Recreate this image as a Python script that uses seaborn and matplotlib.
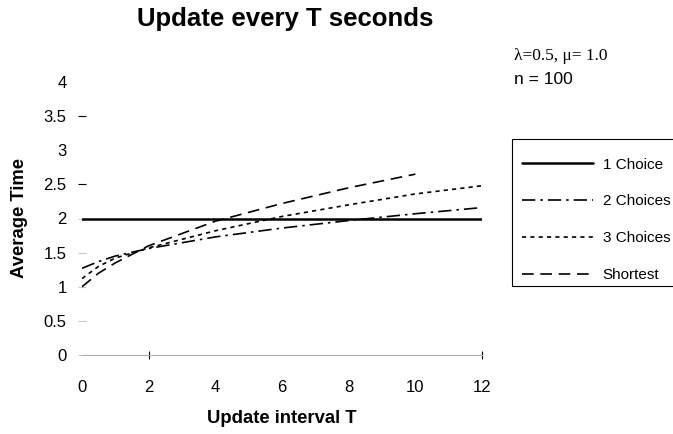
import matplotlib
matplotlib.use("Agg")
import matplotlib.pyplot as plt
from matplotlib.patches import Rectangle
import seaborn as sns
import pandas as pd

# values
t_one = [0, 12]
one_choice = [2.0, 2.0]

t_two = [0, 0.5, 1, 2, 4, 6, 8, 10, 12]
two_choices = [1.27, 1.37, 1.45, 1.56, 1.73, 1.86, 1.97, 2.07, 2.16]

t_three = [0, 0.5, 1, 2, 4, 6, 8, 10, 12]
three_choices = [1.12, 1.30, 1.42, 1.57, 1.82, 2.03, 2.20, 2.36, 2.48]

t_short = [0, 0.5, 1, 2, 4, 6, 8, 10]
shortest = [1.0, 1.20, 1.35, 1.60, 1.96, 2.22, 2.45, 2.65]

x_ticks = [0, 2, 4, 6, 8, 10, 12]
y_ticks = [0, 0.5, 1, 1.5, 2, 2.5, 3, 3.5, 4]
y_tick_labels = ["0", "0.5", "1", "1.5", "2", "2.5", "3", "3.5", "4"]

series = [
    ("1 Choice", t_one, one_choice, "-", 1.8),
    ("2 Choices", t_two, two_choices, (0, (8, 3, 1.5, 3)), 1.2),
    ("3 Choices", t_three, three_choices, (0, (2.5, 2.5)), 1.2),
    ("Shortest", t_short, shortest, (0, (7, 4)), 1.2),
]

sns.set_style("white")
plt.rcParams["font.family"] = ["Liberation Sans", "DejaVu Sans"]
plt.rcParams["text.color"] = "black"
plt.rcParams["axes.labelcolor"] = "black"

fig = plt.figure(figsize=(6.73, 4.34), dpi=100)
ax = fig.add_axes([82 / 673, 1 - 355 / 434, 400 / 673, 273 / 434])

for name, t, vals, ls, lw in series:
    df = pd.DataFrame({"T": t, "Average Time": vals})
    sns.lineplot(data=df, x="T", y="Average Time", ax=ax, color="black",
                 linestyle=ls, linewidth=lw, label=name)

ax.set_xlim(0, 12)
ax.set_ylim(0, 4)
ax.set_xticks(x_ticks)
ax.set_yticks(y_ticks)
ax.set_yticklabels(y_tick_labels)

for s in ["top", "right", "left"]:
    ax.spines[s].set_visible(False)
ax.spines["bottom"].set_color("#b0b0b0")
ax.spines["bottom"].set_linewidth(0.8)

ax.tick_params(axis="both", labelsize=12, direction="inout", length=6,
               width=0.8, colors="black", bottom=True, left=True)
ax.tick_params(axis="x", pad=15)
ax.tick_params(axis="y", pad=8)

# only some tick marks show in the reference
for tk, v in zip(ax.xaxis.get_major_ticks(), x_ticks):
    tk.tick1line.set_visible(v in (2, 12))
for tk, v in zip(ax.yaxis.get_major_ticks(), y_ticks):
    if v in (3, 4):
        tk.tick1line.set_visible(False)
    elif v not in (2.5, 3.5):
        tk.tick1line.set_markeredgecolor("#c8c8c8")

ax.set_xlabel("Update interval T", fontsize=13.3, fontweight="bold")
ax.set_ylabel("Average Time", fontsize=13.3, fontweight="bold")
ax.xaxis.set_label_coords(0.5, -0.2)
ax.yaxis.set_label_coords(-0.135, 0.5)

fig.text(285 / 673, 1 - 19 / 434, "Update every T seconds", fontsize=18.5,
         fontweight="bold", ha="center", va="center")

fig.text(514 / 673, 1 - 56 / 434, "\u03bb=0.5, \u03bc= 1.0", fontsize=12.5,
         family=["Liberation Serif", "DejaVu Serif"], ha="left", va="center")
fig.text(514 / 673, 1 - 80 / 434, "n = 100", fontsize=12.5,
         ha="left", va="center")

leg = ax.legend(loc="upper left", bbox_to_anchor=(503 / 673, 1 - 139 / 434),
                bbox_transform=fig.transFigure, borderaxespad=0,
                frameon=False, fontsize=11, handlelength=4.7,
                handletextpad=0.6, labelspacing=1.49, borderpad=1.22)

# legend box, drawn separately so it can sit a bit off-centre like the original
fig.patches.append(Rectangle((511.5 / 673, 1 - 286 / 434), 170 / 673,
                             147 / 434, transform=fig.transFigure, fill=False,
                             edgecolor="black", linewidth=0.8))

fig.savefig("out.png", dpi=100)
